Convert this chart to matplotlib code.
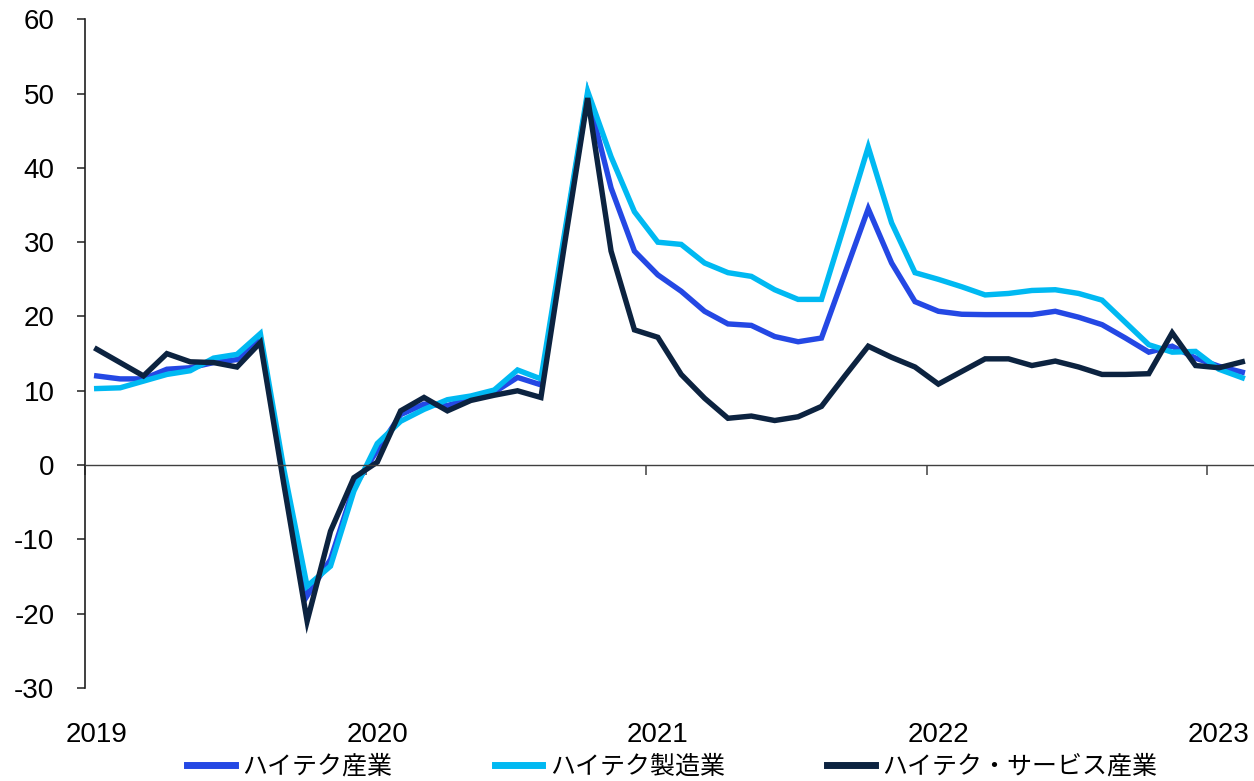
import matplotlib.pyplot as plt
import numpy as np

plt.rcParams['font.family'] = ['Liberation Sans', 'Noto Sans CJK JP']
plt.rcParams['axes.unicode_minus'] = False

# monthly growth, Jan 2019 - Feb 2023 (%)
years = ['2019', '2020', '2021', '2022', '2023']
hightech = [12.0, 11.6, 11.6, 12.9, 13.1, 13.8, 14.2, 17.1, -1.5, -17.6,
            -12.7, -3.0, 2.0, 6.8, 8.2, 8.0, 9.0, 9.8, 11.8, 10.8,
            30.5, 49.8, 37.3, 28.8, 25.6, 23.4, 20.7, 19.0, 18.8, 17.3,
            16.6, 17.1, 25.8, 34.5, 27.2, 22.0, 20.7, 20.3, 20.25, 20.25,
            20.25, 20.7, 19.9, 18.9, 17.1, 15.2, 16.0, 14.4, 13.3, 12.5]
hightech_mfg = [10.3, 10.4, 11.3, 12.2, 12.7, 14.4, 14.9, 17.7, -0.5, -16.3,
                -13.6, -3.5, 2.9, 5.9, 7.5, 8.8, 9.3, 10.1, 12.8, 11.6,
                31.0, 50.3, 41.5, 34.1, 30.0, 29.7, 27.2, 25.9, 25.4, 23.6,
                22.3, 22.3, 32.5, 42.8, 32.6, 25.9, 25.0, 24.0, 22.9, 23.1,
                23.5, 23.6, 23.1, 22.2, 19.2, 16.2, 15.2, 15.3, 12.9, 11.75]
hightech_svc = [15.6, 13.8, 12.0, 15.0, 13.9, 13.8, 13.2, 16.5, -2.5, -21.0,
                -8.9, -1.7, 0.4, 7.3, 9.1, 7.3, 8.7, 9.4, 10.0, 9.1,
                29.5, 49.4, 28.8, 18.2, 17.2, 12.2, 9.0, 6.3, 6.6, 6.0,
                6.5, 7.9, 12.0, 16.0, 14.5, 13.2, 10.9, 12.6, 14.3, 14.3,
                13.4, 14.0, 13.2, 12.2, 12.2, 12.3, 17.8, 13.4, 13.1, 13.9]
names = ['ハイテク産業', 'ハイテク製造業', 'ハイテク・サービス産業']
colors = ['#2448e4', '#00b9f2', '#0c2340']

x = np.arange(len(hightech))

fig = plt.figure(figsize=(12.54, 7.81), dpi=100)
ax = fig.add_axes([0.0678, 0.1191, 0.9322, 0.8562])

for series, name, c in zip([hightech, hightech_mfg, hightech_svc], names, colors):
    ax.plot(x, series, color=c, lw=3.9, label=name, solid_joinstyle='miter')

ax.set_xlim(-0.5, len(x) - 0.5)
ax.set_ylim(-30, 60)
ax.set_yticks(np.arange(-30, 61, 10))

# year boundaries as major ticks, year names centred on January
ax.set_xticks(np.arange(-0.5, len(x), 12))
ax.set_xticklabels([])
ax.set_xticks(np.arange(0, len(x), 12), minor=True)
ax.set_xticklabels(years, minor=True)

for s in ['top', 'right']:
    ax.spines[s].set_visible(False)
ax.spines['bottom'].set_position(('data', 0))
ax.spines['bottom'].set_color('#404040')
ax.spines['bottom'].set_linewidth(1.0)
ax.spines['left'].set_color('#202020')
ax.spines['left'].set_linewidth(1.2)

ax.tick_params(axis='y', direction='out', length=6, width=1.1, pad=16,
               labelsize=20, colors='#202020', labelcolor='black')
ax.tick_params(axis='x', which='major', direction='out', length=7, width=1.1,
               colors='#404040')
ax.tick_params(axis='x', which='minor', length=0, pad=185, labelsize=20,
               labelcolor='black')

leg = fig.legend(loc='center', bbox_to_anchor=(0.536, 0.018), ncol=3,
                 frameon=False, handlelength=1.9, handletextpad=0.3,
                 columnspacing=4.1,
                 prop={'family': ['Noto Sans CJK JP'], 'size': 18})
for line in leg.get_lines():
    line.set_linewidth(5)

fig.savefig('out.png', dpi=100)
